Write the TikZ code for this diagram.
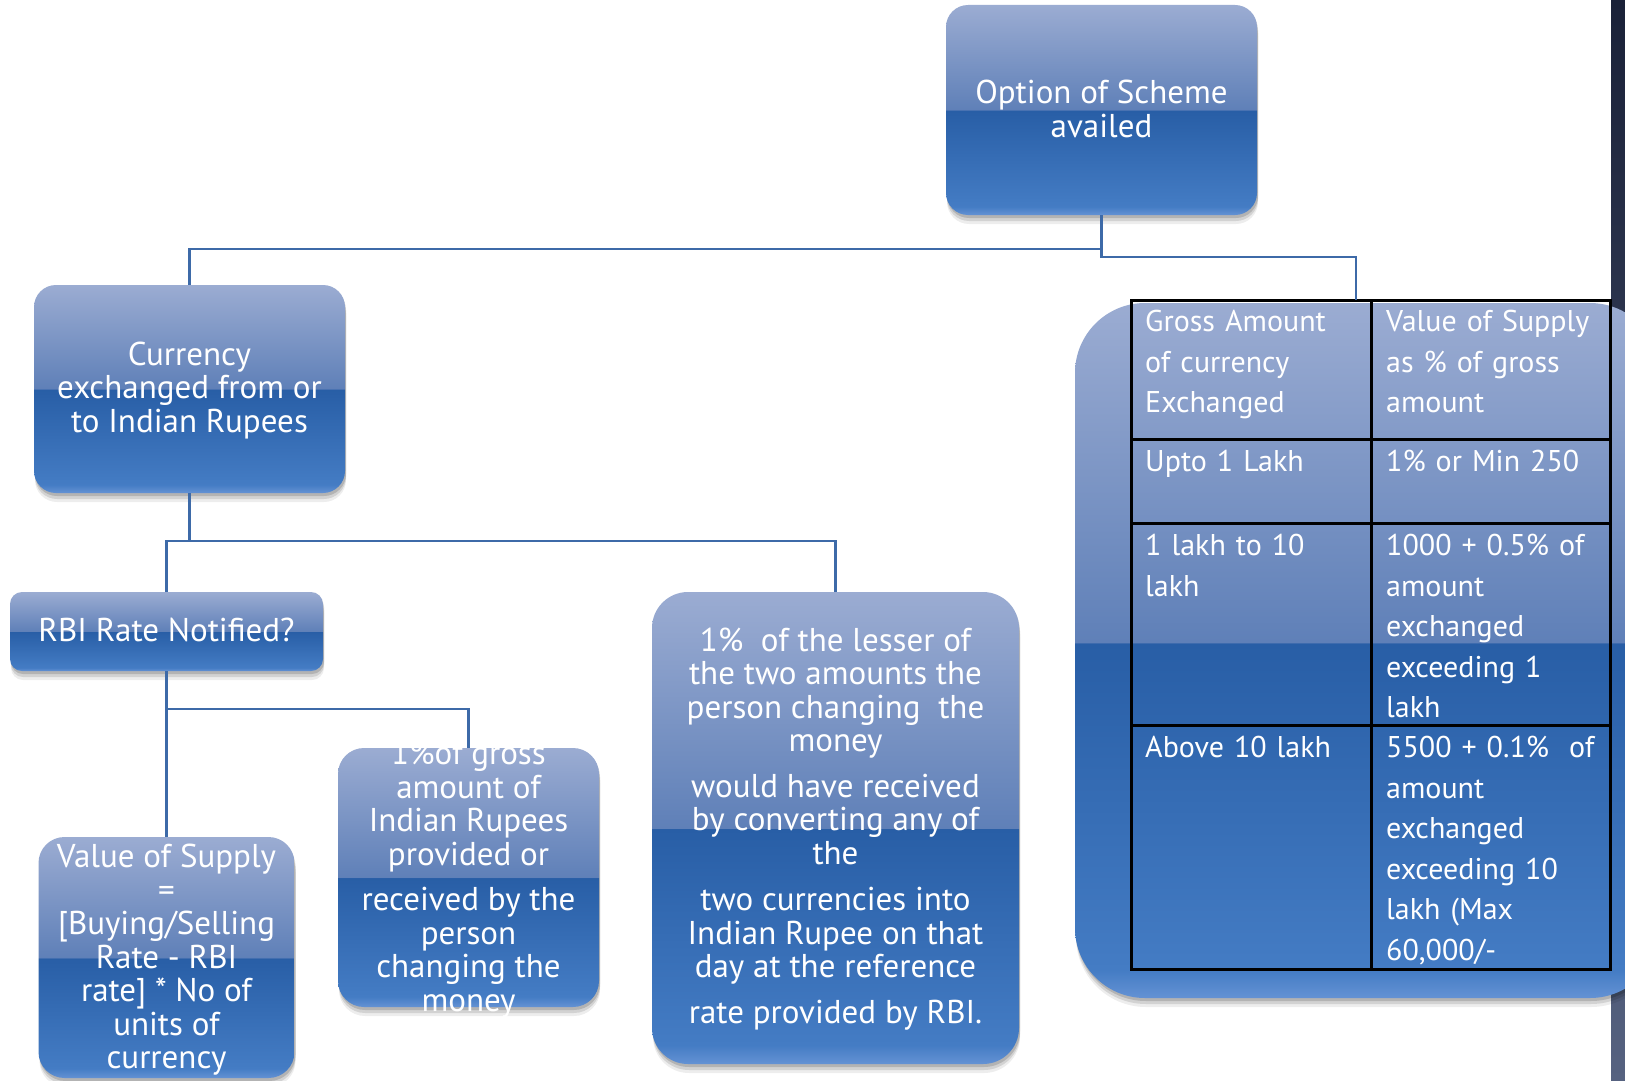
\documentclass[tikz,border=0pt]{standalone}
\usepackage{fontspec}
\setmainfont{PT Sans}
\usetikzlibrary{shadows}
\definecolor{gTop}{RGB}{155,172,210}
\definecolor{gMidUp}{RGB}{95,128,184}
\definecolor{gMidDn}{RGB}{40,94,166}
\definecolor{gLow}{RGB}{68,124,196}
\definecolor{gBot}{RGB}{100,146,212}
\definecolor{connC}{RGB}{61,106,168}
\definecolor{barTop}{RGB}{26,33,56}
\definecolor{barBot}{RGB}{86,98,128}
\pgfdeclareverticalshading{glossy}{100bp}{color(0bp)=(gBot); color(25bp)=(gBot); color(27bp)=(gLow); color(49.9bp)=(gMidDn); color(50bp)=(gMidUp); color(75bp)=(gTop); color(100bp)=(gTop)}
\pgfdeclareverticalshading{glossybig}{100bp}{color(0bp)=(gBot); color(25bp)=(gBot); color(27bp)=(gLow); color(50.5bp)=(gMidDn); color(50.6bp)=(gMidUp); color(75bp)=(gTop); color(100bp)=(gTop)}
\begin{document}
\begin{tikzpicture}[x=1pt,y=-1pt,
  softshadow/.style={general shadow={shadow xshift=1pt, shadow yshift=-3pt, opacity=.15, fill=black},
                     general shadow={shadow xshift=1pt, shadow yshift=-6pt, opacity=.11, fill=black},
                     general shadow={shadow xshift=1pt, shadow yshift=-9pt, opacity=.07, fill=black}},
  box/.style={shade, shading=glossy, draw=none, inner sep=0pt, softshadow},
  conn/.style={draw=connC, line width=2.5pt},
  txt/.style={text=white, align=center, inner sep=0pt, font=\fontsize{33}{33.5}\selectfont},
  cell/.style={text=white, align=left, anchor=north west, inner sep=0pt, text width=225pt, font=\fontsize{30}{40.5}\selectfont},
  tline/.style={draw=black, line width=3pt}]
\useasboundingbox (0,0) rectangle (1625,1081);
\clip (0,0) rectangle (1625,1081);
\fill[white] (0,0) rectangle (1625,1081);
\shade[top color=barTop, bottom color=barBot] (1611,0) rectangle (1625,1081);

% boxes
\node[box, rounded corners=22pt, minimum width=311pt, minimum height=210pt] (top) at (1101.5,110) {};
\node[box, rounded corners=22pt, minimum width=311pt, minimum height=208pt] (cur) at (189.5,389) {};
\node[box, rounded corners=12pt, minimum width=313pt, minimum height=79pt] (rbi) at (166.5,631.5) {};
\node[box, rounded corners=26pt, minimum width=261pt, minimum height=259pt] (pct) at (468.5,877.5) {};
\node[box, rounded corners=36pt, minimum width=367pt, minimum height=472pt] (mid) at (835.5,828) {};
\node[box, rounded corners=26pt, minimum width=256pt, minimum height=241pt] (val) at (166.5,957.5) {};
\node[box, shading=glossybig, rounded corners=70pt, minimum width=585pt, minimum height=695pt] (tbox) at (1367.5,650.5) {};

% texts
\node[txt] (ttop) at (1101.5,109) {Option of Scheme\\availed};
\node[txt] (tcur) at (189.5,390.5) {Currency\\exchanged from or\\to Indian Rupees};
\node[txt] (trbi) at (166.5,630) {RBI Rate Notified?};
\node[txt] (tpct) at (468.5,879.5) {1\%of gross\\amount of\\Indian Rupees\\provided or\\[12pt]received by the\\person\\changing the\\money};
\node[txt] (tmid) at (835.5,829) {1\%~ of the lesser of\\the two amounts the\\person changing~ the\\money\\[12pt]would have received\\by converting any of\\the\\[13pt]two currencies into\\Indian Rupee on that\\day at the reference\\[12pt]rate provided by RBI.};
\node[txt] (tval) at (166.5,960) {Value of Supply\\=\\{[}Buying/Selling\\Rate - RBI\\rate] * No of\\units of\\currency};

% table
\draw[tline] (1131,300) rectangle (1610,969);
\draw[tline] (1371,300) -- (1371,969);
\draw[tline] (1131,439) -- (1610,439);
\draw[tline] (1131,523) -- (1610,523);
\draw[tline] (1131,725) -- (1610,725);
\node[cell] (c11) at (1145,310) {Gross Amount\\of currency\\Exchanged};
\node[cell] (c12) at (1386,310) {Value of Supply\\as \% of gross\\amount};
\node[cell] (c21) at (1145,450) {Upto 1 Lakh};
\node[cell] (c22) at (1386,450) {1\% or Min 250};
\node[cell] (c31) at (1145,534) {1 lakh to 10\\lakh};
\node[cell] (c32) at (1386,534) {1000 + 0.5\% of\\amount\\exchanged\\exceeding 1\\lakh};
\node[cell] (c41) at (1145,736) {Above 10 lakh};
\node[cell] (c42) at (1386,736) {5500 + 0.1\%~ of\\amount\\exchanged\\exceeding 10\\lakh (Max\\60,000/-};

% connectors
\coordinate (tabtop) at (1356,300);
\draw[conn] (top.south) -- ++(0,34) -| (cur.north);
\draw[conn] (top.south) -- ++(0,42) -| (tabtop);
\draw[conn] (cur.south) -- ++(0,48) coordinate (j1);
\draw[conn] (rbi.north) |- (j1) -| (mid.north);
\draw[conn] (rbi.south) -- (val.north);
\draw[conn] (rbi.south) -- ++(0,38) -| (pct.north);
\end{tikzpicture}
\end{document}
